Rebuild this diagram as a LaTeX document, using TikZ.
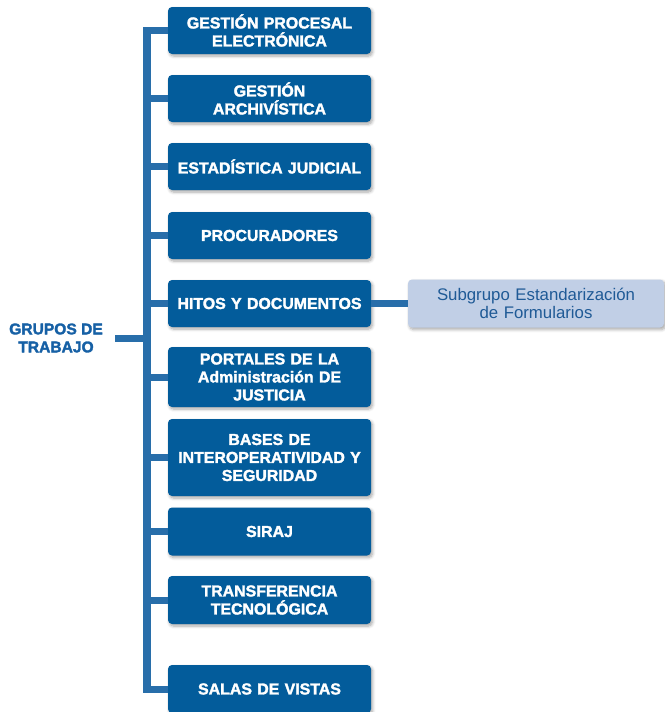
\documentclass[tikz,border=0pt]{standalone}
\usepackage{fontspec}
\setmainfont{Liberation Sans}
\newfontfamily\heavyfont{Liberation Sans Bold}[FakeBold=2]
\usetikzlibrary{shadows.blur}
\definecolor{boxblue}{RGB}{3,92,155}
\definecolor{linkblue}{RGB}{40,110,170}
\definecolor{subfill}{RGB}{193,207,230}
\definecolor{subtext}{RGB}{31,90,150}
\definecolor{grptext}{RGB}{22,96,165}
\tikzset{
  grpbox/.style={draw=none, fill=boxblue, rounded corners=4pt, minimum width=203pt,
    text width=199pt, inner xsep=2pt, inner ysep=2pt, align=center, text=white,
    font=\heavyfont\fontsize{15.9}{18}\selectfont,
    blur shadow={shadow xshift=1.5pt, shadow yshift=-2pt, shadow blur steps=6, shadow blur radius=3pt, shadow opacity=35}},
  subbox/.style={grpbox, fill=subfill, text=subtext, minimum width=256pt, text width=248pt,
    font=\fontsize{16.8}{18}\selectfont},
  link/.style={draw=linkblue, line width=7pt},
  barline/.style={draw=linkblue, line width=8pt, line cap=rect},
}
\begin{document}
\begin{tikzpicture}[x=1pt,y=1pt]
\useasboundingbox (0,0) rectangle (664,-712);
% trunk
\coordinate (bt) at (147,-30.5);
\coordinate (bb) at (147,-688.5);
\draw[barline] (bt) -- (bb);
% root label
\node[text=grptext, font=\heavyfont\fontsize{15.6}{18}\selectfont, align=center, inner sep=0pt] (g) at (56,-338) {GRUPOS DE\\TRABAJO};
% boxes
\node[grpbox, minimum height=47pt] (b1) at (269.5,-30.5) {GESTIÓN PROCESAL\\ELECTRÓNICA};
\node[grpbox, minimum height=47pt] (b2) at (269.5,-98.5) {GESTIÓN\\ARCHIVÍSTICA};
\node[grpbox, minimum height=47pt] (b3) at (269.5,-166.5) {ESTADÍSTICA JUDICIAL};
\node[grpbox, minimum height=47pt] (b4) at (269.5,-235.5) {PROCURADORES};
\node[grpbox, minimum height=47pt] (b5) at (269.5,-303.5) {HITOS Y DOCUMENTOS};
\node[grpbox, minimum height=60pt] (b6) at (269.5,-377) {PORTALES DE LA\\Administración DE\\JUSTICIA};
\node[grpbox, minimum height=77pt] (b7) at (269.5,-457.5) {BASES DE\\INTEROPERATIVIDAD Y\\SEGURIDAD};
\node[grpbox, minimum height=48pt] (b8) at (269.5,-531.5) {SIRAJ};
\node[grpbox, minimum height=48pt] (b9) at (269.5,-600) {TRANSFERENCIA\\TECNOLÓGICA};
\node[grpbox, minimum height=48pt] (b10) at (269.5,-689) {SALAS DE VISTAS};
\node[subbox, minimum height=48pt] (sub) at (536,-303.5) {Subgrupo Estandarización\\de Formularios};
% connectors
\draw[link] (g.east) ++(12,0) coordinate (gs) (gs) -- (gs -| bt);
\foreach \b in {b1,b2,b3,b4,b5,b6,b7,b8,b9,b10}{
  \draw[link] (\b.west) -- (\b.west -| bt);
}
\draw[link] (b5.east) -- (sub.west);
\end{tikzpicture}
\end{document}
